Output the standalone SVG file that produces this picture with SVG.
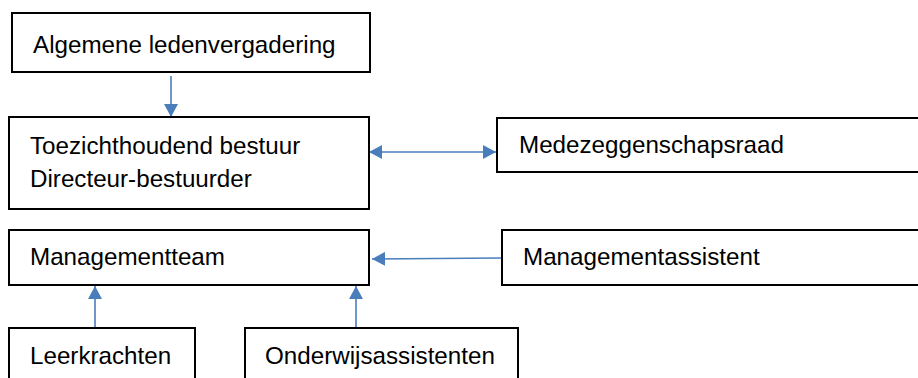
<svg xmlns="http://www.w3.org/2000/svg" width="918" height="378" viewBox="0 0 918 378">
<style>
.box{fill:#fff;stroke:#000;stroke-width:2}
.t{font-family:"Liberation Sans",Arial,sans-serif;font-size:24.2px;fill:#000}
.c{stroke:#4a7ebb;stroke-width:1.6;fill:none}
</style>
<defs>
<marker id="ah" markerWidth="13" markerHeight="14" refX="13" refY="7" orient="auto-start-reverse" markerUnits="userSpaceOnUse" viewBox="0 0 13 14">
<path d="M0,0 L13,7 L0,14 Z" fill="#4a7ebb"/>
</marker>
</defs>
<rect width="918" height="378" fill="#fff"/>
<g id="connectors">
<line class="c" x1="171" y1="76" x2="171" y2="117" marker-end="url(#ah)"/>
<line class="c" x1="369" y1="152" x2="496" y2="152" marker-start="url(#ah)" marker-end="url(#ah)"/>
<line class="c" x1="502" y1="258" x2="372" y2="259" marker-end="url(#ah)"/>
<line class="c" x1="95" y1="329" x2="95" y2="286" marker-end="url(#ah)"/>
<line class="c" x1="356" y1="329" x2="356" y2="286" marker-end="url(#ah)"/>
</g>
<g id="alv">
<rect class="box" x="12" y="13" width="358" height="59"/>
<text class="t" x="33" y="53">Algemene ledenvergadering</text>
</g>
<g id="bestuur">
<rect class="box" x="9" y="117" width="360" height="92"/>
<text class="t" x="30" y="154">Toezichthoudend bestuur</text>
<text class="t" x="30" y="187">Directeur-bestuurder</text>
</g>
<g id="mr">
<rect class="box" x="497" y="118" width="425" height="54"/>
<text class="t" x="519" y="153">Medezeggenschapsraad</text>
</g>
<g id="mt">
<rect class="box" x="9" y="230" width="360" height="55"/>
<text class="t" x="30" y="265">Managementteam</text>
</g>
<g id="ma">
<rect class="box" x="502" y="230" width="420" height="55"/>
<text class="t" x="523" y="265">Managementassistent</text>
</g>
<g id="lk">
<rect class="box" x="9" y="328" width="186" height="60"/>
<text class="t" x="30" y="364">Leerkrachten</text>
</g>
<g id="oa">
<rect class="box" x="245" y="328" width="273" height="60"/>
<text class="t" x="265" y="364">Onderwijsassistenten</text>
</g>
</svg>
